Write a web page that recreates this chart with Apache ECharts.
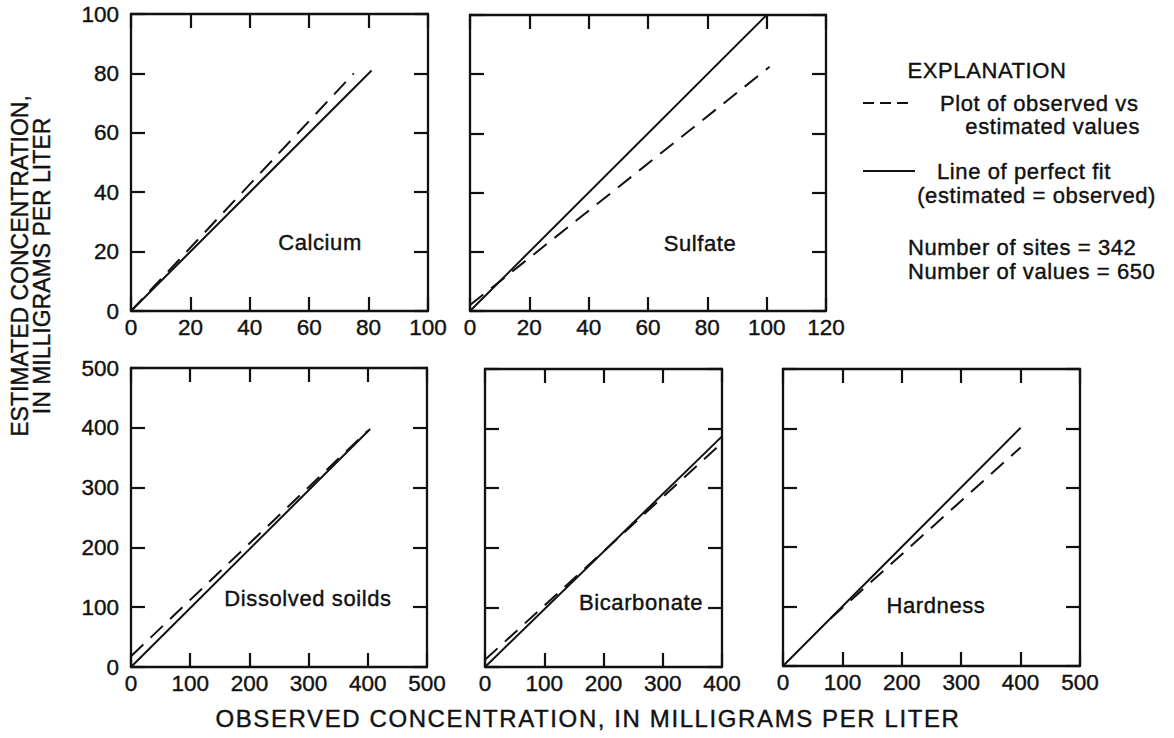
<!DOCTYPE html>
<html>
<head>
<meta charset="utf-8">
<title>Observed vs estimated concentration</title>
<script src="https://cdn.jsdelivr.net/npm/echarts@6/dist/echarts.min.js"></script>
<style>
  html, body { margin: 0; padding: 0; background: #fff; }
  #chart { width: 1174px; height: 738px; }
  /* wide tracking: horizontal axis title, and a little for the explanation text */
  #chart text[style*="24px"] { letter-spacing: 1.6px; }
  #chart text[style*="font: 22px"] { letter-spacing: 0.6px; }
</style>
</head>
<body>
<div id="chart"></div>
<script>
// Constituent panels, in drawing order
const constituents = ['Calcium', 'Sulfate', 'Dissolved soilds', 'Bicarbonate', 'Hardness'];

// Axis extents (mg/L)
const xMax = [100, 120, 500, 400, 500];
const xStep = [20, 20, 100, 100, 100];
const yMax = [100, 100, 500, 500, 500];
const yStep = [20, 20, 100, 100, 100];

// Plot of observed vs estimated values: [observed, estimated] end points
const calciumObserved = [[0, 0], [75, 80]];
const sulfateObserved = [[0, 2], [101, 82.5]];
const solidsObserved = [[0, 18], [400, 395]];
const bicarbonateObserved = [[0, 12], [400, 376]];
const hardnessObserved = [[80, 80], [400, 368]];

// Line of perfect fit (estimated = observed)
const calciumPerfect = [[0, 0], [81, 81]];
const sulfatePerfect = [[0, 0], [100, 100]];
const solidsPerfect = [[0, 0], [404, 398]];
const bicarbonatePerfect = [[0, 0], [400, 387]];
const hardnessPerfect = [[0, 0], [400, 401]];

const observedSets = [calciumObserved, sulfateObserved, solidsObserved, bicarbonateObserved, hardnessObserved];
const perfectSets = [calciumPerfect, sulfatePerfect, solidsPerfect, bicarbonatePerfect, hardnessPerfect];

// Legend / annotation text
const explanationTitle = 'EXPLANATION';
const dashedLegend = ['Plot of observed vs', 'estimated values'];
const solidLegend = ['Line of perfect fit', '(estimated = observed)'];
const countLines = ['Number of sites = 342', 'Number of values = 650'];
const xTitle = 'OBSERVED CONCENTRATION, IN MILLIGRAMS PER LITER';
const yTitle = ['ESTIMATED CONCENTRATION,', 'IN MILLIGRAMS PER LITER'];

// Layout
const INK = '#111111';
const FONT = '"Liberation Sans", Arial, Helvetica, sans-serif';
const grids = [
  { left: 131, top: 14, width: 297, height: 297 },
  { left: 470, top: 15, width: 356, height: 296 },
  { left: 131, top: 368, width: 296, height: 299 },
  { left: 485, top: 369, width: 237, height: 298 },
  { left: 783, top: 369, width: 297, height: 297 }
];
const labelSpots = [
  { x: 320, y: 242 }, { x: 700, y: 243 }, { x: 308, y: 598 }, { x: 641, y: 602 }, { x: 936, y: 605 }
];
const showYLabels = [true, false, true, false, false];

const axisLine = { show: true, onZero: false, lineStyle: { color: INK, width: 2.3 } };
const axisTick = { show: true, inside: true, length: 14, lineStyle: { color: INK, width: 2.2 } };
const tickFont = { color: INK, fontFamily: FONT, fontSize: 22.5, textBorderColor: INK, textBorderWidth: 0.4 };

const xAxes = [], yAxes = [], series = [];
grids.forEach((g, i) => {
  const base = { type: 'value', gridIndex: i, splitLine: { show: false }, axisLine, axisTick };
  // bottom (labelled) and top (ticks only)
  xAxes.push(Object.assign({}, base, {
    position: 'bottom', min: 0, max: xMax[i], interval: xStep[i],
    axisLabel: Object.assign({ show: true, margin: 5, showMinLabel: true, showMaxLabel: true }, tickFont)
  }));
  xAxes.push(Object.assign({}, base, {
    position: 'top', min: 0, max: xMax[i], interval: xStep[i], axisLabel: { show: false }
  }));
  // left (labelled on the outer panels) and right (ticks only)
  yAxes.push(Object.assign({}, base, {
    position: 'left', min: 0, max: yMax[i], interval: yStep[i],
    axisLabel: Object.assign({ show: showYLabels[i], margin: 12, showMinLabel: true, showMaxLabel: true }, tickFont)
  }));
  yAxes.push(Object.assign({}, base, {
    position: 'right', min: 0, max: yMax[i], interval: yStep[i], axisLabel: { show: false }
  }));

  series.push({
    name: constituents[i] + ' observed vs estimated',
    type: 'line', xAxisIndex: i * 2, yAxisIndex: i * 2,
    data: observedSets[i], showSymbol: false, silent: true, clip: false,
    lineStyle: { color: INK, width: 2, type: [17, 10] }
  });
  series.push({
    name: constituents[i] + ' perfect fit',
    type: 'line', xAxisIndex: i * 2, yAxisIndex: i * 2,
    data: perfectSets[i], showSymbol: false, silent: true, clip: false,
    lineStyle: { color: INK, width: 2 }
  });
});

const textStyle = (extra) => Object.assign({
  fill: INK, font: '22px ' + FONT, stroke: INK, lineWidth: 0.4
}, extra);

const graphic = [];
constituents.forEach((name, i) => {
  graphic.push({
    type: 'text', x: labelSpots[i].x, y: labelSpots[i].y,
    style: textStyle({ text: name, textAlign: 'center', textVerticalAlign: 'middle' })
  });
});

// Explanation block
graphic.push(
  { type: 'text', x: 987, y: 70, style: textStyle({ text: explanationTitle, textAlign: 'center', textVerticalAlign: 'middle' }) },
  { type: 'line', shape: { x1: 863, y1: 103, x2: 908, y2: 103 }, style: { stroke: INK, lineWidth: 2, lineDash: [11, 6] } },
  { type: 'text', x: 940, y: 103, style: textStyle({ text: dashedLegend[0], textVerticalAlign: 'middle' }) },
  { type: 'text', x: 1140, y: 126, style: textStyle({ text: dashedLegend[1], textAlign: 'right', textVerticalAlign: 'middle' }) },
  { type: 'line', shape: { x1: 863, y1: 171, x2: 915, y2: 171 }, style: { stroke: INK, lineWidth: 2 } },
  { type: 'text', x: 937, y: 171, style: textStyle({ text: solidLegend[0], textVerticalAlign: 'middle' }) },
  { type: 'text', x: 1156, y: 195, style: textStyle({ text: solidLegend[1], textAlign: 'right', textVerticalAlign: 'middle' }) },
  { type: 'text', x: 908, y: 247, style: textStyle({ text: countLines[0], textAlign: 'left', textVerticalAlign: 'middle' }) },
  { type: 'text', x: 908, y: 271, style: textStyle({ text: countLines[1], textAlign: 'left', textVerticalAlign: 'middle' }) }
);

// Axis titles
graphic.push(
  { type: 'text', x: 588, y: 718, style: textStyle({ text: xTitle, font: '24px ' + FONT, textAlign: 'center', textVerticalAlign: 'middle' }) },
  { type: 'text', x: 31, y: 266, rotation: Math.PI / 2,
    style: textStyle({ text: yTitle.join('\n'), font: '23px ' + FONT, lineHeight: 22, textAlign: 'center', textVerticalAlign: 'middle' }) }
);

const chart = echarts.init(document.getElementById('chart'), null, { renderer: 'svg' });
chart.setOption({
  animation: false,
  backgroundColor: '#ffffff',
  grid: grids,
  xAxis: xAxes,
  yAxis: yAxes,
  series: series,
  graphic: graphic
});
</script>
</body>
</html>
